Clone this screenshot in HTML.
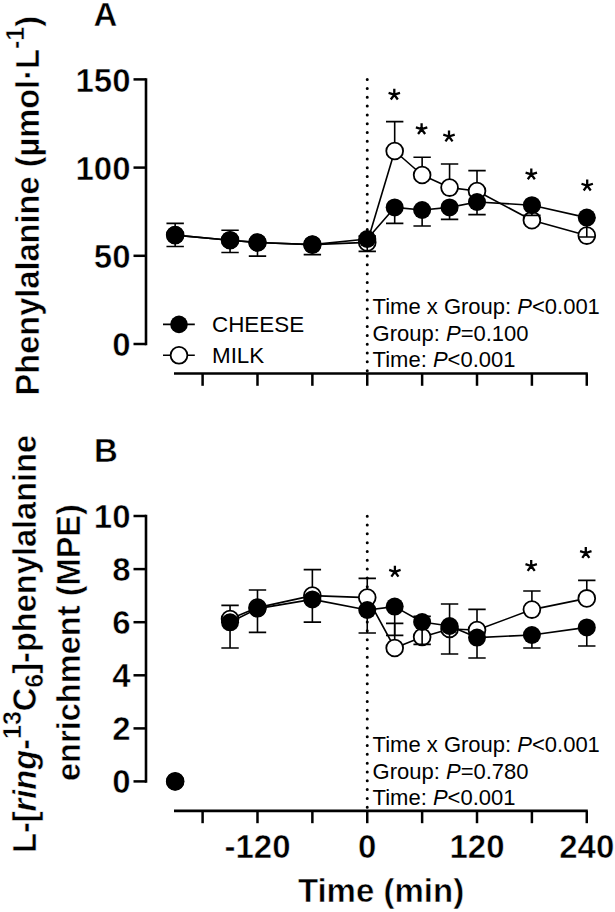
<!DOCTYPE html>
<html><head><meta charset="utf-8"><style>
html,body{margin:0;padding:0;background:#fff;}
svg{display:block;}
text{font-family:"Liberation Sans",sans-serif;fill:#000;}
.b{font-weight:bold;font-size:33px;stroke:#fff;stroke-width:0.5px;}
.t{font-size:32.6px;}
.r{font-size:22px;}
.lg{font-size:22.4px;}
.st{font-size:30px;}
</style></head><body>
<svg width="615" height="912" viewBox="0 0 615 912">
<rect width="615" height="912" fill="#fff"/>
<path d="M146,78.15 V345.25" stroke="#000" stroke-width="2.6" fill="none"/>
<path d="M133.5,79.4 H146" stroke="#000" stroke-width="2.5" fill="none"/>
<text x="130.5" y="91.70" text-anchor="end" class="b">150</text>
<path d="M133.5,167.6 H146" stroke="#000" stroke-width="2.5" fill="none"/>
<text x="130.5" y="179.90" text-anchor="end" class="b">100</text>
<path d="M133.5,255.8 H146" stroke="#000" stroke-width="2.5" fill="none"/>
<text x="130.5" y="268.10" text-anchor="end" class="b">50</text>
<path d="M133.5,344 H146" stroke="#000" stroke-width="2.5" fill="none"/>
<text x="130.5" y="356.30" text-anchor="end" class="b">0</text>
<path d="M174,373.5 H587.8" stroke="#000" stroke-width="2.7" fill="none"/>
<path d="M202.60,373.5 V385.8" stroke="#000" stroke-width="2.5" fill="none"/>
<path d="M257.49,373.5 V385.8" stroke="#000" stroke-width="2.5" fill="none"/>
<path d="M312.37,373.5 V385.8" stroke="#000" stroke-width="2.5" fill="none"/>
<path d="M367.25,373.5 V385.8" stroke="#000" stroke-width="2.5" fill="none"/>
<path d="M422.13,373.5 V385.8" stroke="#000" stroke-width="2.5" fill="none"/>
<path d="M477.01,373.5 V385.8" stroke="#000" stroke-width="2.5" fill="none"/>
<path d="M531.90,373.5 V385.8" stroke="#000" stroke-width="2.5" fill="none"/>
<path d="M586.78,373.5 V385.8" stroke="#000" stroke-width="2.5" fill="none"/>
<path d="M367.25,79.60000000000001 V373.5" stroke="#000" stroke-width="3" stroke-dasharray="0 8.82" stroke-linecap="round" fill="none"/>
<path d="M175.16,235.10 L230.05,240.20 L257.49,242.50 L312.37,244.60 L367.25,242.40 L394.69,151.00 L422.13,175.00 L449.57,187.60 L477.01,191.00 L531.90,220.20 L586.78,235.60" fill="none" stroke="#000" stroke-width="1.6" stroke-linejoin="round"/>
<path d="M175.16,235.10 V223.40 M166.46,223.40 H183.86" fill="none" stroke="#000" stroke-width="1.6"/>
<path d="M230.05,240.20 V230.30 M221.35,230.30 H238.75" fill="none" stroke="#000" stroke-width="1.6"/>
<path d="M257.49,242.50 V242.50 M248.79,242.50 H266.19" fill="none" stroke="#000" stroke-width="1.6"/>
<path d="M312.37,244.60 V244.60 M303.67,244.60 H321.07" fill="none" stroke="#000" stroke-width="1.6"/>
<path d="M367.25,242.40 V236.00 M358.55,236.00 H375.95" fill="none" stroke="#000" stroke-width="1.6"/>
<path d="M394.69,151.00 V121.60 M385.99,121.60 H403.39" fill="none" stroke="#000" stroke-width="1.6"/>
<path d="M422.13,175.00 V157.20 M413.43,157.20 H430.83" fill="none" stroke="#000" stroke-width="1.6"/>
<path d="M449.57,187.60 V164.00 M440.87,164.00 H458.27" fill="none" stroke="#000" stroke-width="1.6"/>
<path d="M477.01,191.00 V170.60 M468.31,170.60 H485.71" fill="none" stroke="#000" stroke-width="1.6"/>
<path d="M531.90,220.20 V206.00 M523.20,206.00 H540.60" fill="none" stroke="#000" stroke-width="1.6"/>
<path d="M586.78,235.60 V218.00 M578.08,218.00 H595.48" fill="none" stroke="#000" stroke-width="1.6"/>
<circle cx="175.16" cy="235.10" r="8.4" fill="#fff" stroke="#000" stroke-width="1.8"/>
<circle cx="230.05" cy="240.20" r="8.4" fill="#fff" stroke="#000" stroke-width="1.8"/>
<circle cx="257.49" cy="242.50" r="8.4" fill="#fff" stroke="#000" stroke-width="1.8"/>
<circle cx="312.37" cy="244.60" r="8.4" fill="#fff" stroke="#000" stroke-width="1.8"/>
<circle cx="367.25" cy="242.40" r="8.4" fill="#fff" stroke="#000" stroke-width="1.8"/>
<circle cx="394.69" cy="151.00" r="8.4" fill="#fff" stroke="#000" stroke-width="1.8"/>
<circle cx="422.13" cy="175.00" r="8.4" fill="#fff" stroke="#000" stroke-width="1.8"/>
<circle cx="449.57" cy="187.60" r="8.4" fill="#fff" stroke="#000" stroke-width="1.8"/>
<circle cx="477.01" cy="191.00" r="8.4" fill="#fff" stroke="#000" stroke-width="1.8"/>
<circle cx="531.90" cy="220.20" r="8.4" fill="#fff" stroke="#000" stroke-width="1.8"/>
<circle cx="586.78" cy="235.60" r="8.4" fill="#fff" stroke="#000" stroke-width="1.8"/>
<path d="M175.16,235.10 L230.05,240.20 L257.49,242.50 L312.37,244.60 L367.25,239.00 L394.69,207.40 L422.13,210.00 L449.57,207.40 L477.01,202.00 L531.90,205.20 L586.78,217.60" fill="none" stroke="#000" stroke-width="1.6" stroke-linejoin="round"/>
<path d="M175.16,235.10 V246.50 M166.46,246.50 H183.86" fill="none" stroke="#000" stroke-width="1.6"/>
<path d="M230.05,240.20 V252.50 M221.35,252.50 H238.75" fill="none" stroke="#000" stroke-width="1.6"/>
<path d="M257.49,242.50 V256.10 M248.79,256.10 H266.19" fill="none" stroke="#000" stroke-width="1.6"/>
<path d="M312.37,244.60 V254.60 M303.67,254.60 H321.07" fill="none" stroke="#000" stroke-width="1.6"/>
<path d="M367.25,239.00 V251.40 M358.55,251.40 H375.95" fill="none" stroke="#000" stroke-width="1.6"/>
<path d="M394.69,207.40 V223.40 M385.99,223.40 H403.39" fill="none" stroke="#000" stroke-width="1.6"/>
<path d="M422.13,210.00 V226.00 M413.43,226.00 H430.83" fill="none" stroke="#000" stroke-width="1.6"/>
<path d="M449.57,207.40 V219.40 M440.87,219.40 H458.27" fill="none" stroke="#000" stroke-width="1.6"/>
<path d="M477.01,202.00 V214.60 M468.31,214.60 H485.71" fill="none" stroke="#000" stroke-width="1.6"/>
<path d="M531.90,205.20 V215.40 M523.20,215.40 H540.60" fill="none" stroke="#000" stroke-width="1.6"/>
<path d="M586.78,217.60 V237.00 M578.08,237.00 H595.48" fill="none" stroke="#000" stroke-width="1.6"/>
<circle cx="175.16" cy="235.10" r="9.0" fill="#000"/>
<circle cx="230.05" cy="240.20" r="9.0" fill="#000"/>
<circle cx="257.49" cy="242.50" r="9.0" fill="#000"/>
<circle cx="312.37" cy="244.60" r="9.0" fill="#000"/>
<circle cx="367.25" cy="239.00" r="9.0" fill="#000"/>
<circle cx="394.69" cy="207.40" r="9.0" fill="#000"/>
<circle cx="422.13" cy="210.00" r="9.0" fill="#000"/>
<circle cx="449.57" cy="207.40" r="9.0" fill="#000"/>
<circle cx="477.01" cy="202.00" r="9.0" fill="#000"/>
<circle cx="531.90" cy="205.20" r="9.0" fill="#000"/>
<circle cx="586.78" cy="217.60" r="9.0" fill="#000"/>
<path d="M394.30,94.70 L394.30,88.70 M394.30,94.70 L400.01,92.85 M394.30,94.70 L397.83,99.55 M394.30,94.70 L390.77,99.55 M394.30,94.70 L388.59,92.85" stroke="#000" stroke-width="2.3" fill="none"/>
<path d="M421.60,129.20 L421.60,123.20 M421.60,129.20 L427.31,127.35 M421.60,129.20 L425.13,134.05 M421.60,129.20 L418.07,134.05 M421.60,129.20 L415.89,127.35" stroke="#000" stroke-width="2.3" fill="none"/>
<path d="M449.00,136.50 L449.00,130.50 M449.00,136.50 L454.71,134.65 M449.00,136.50 L452.53,141.35 M449.00,136.50 L445.47,141.35 M449.00,136.50 L443.29,134.65" stroke="#000" stroke-width="2.3" fill="none"/>
<path d="M531.30,174.40 L531.30,168.40 M531.30,174.40 L537.01,172.55 M531.30,174.40 L534.83,179.25 M531.30,174.40 L527.77,179.25 M531.30,174.40 L525.59,172.55" stroke="#000" stroke-width="2.3" fill="none"/>
<path d="M587.20,185.60 L587.20,179.60 M587.20,185.60 L592.91,183.75 M587.20,185.60 L590.73,190.45 M587.20,185.60 L583.67,190.45 M587.20,185.60 L581.49,183.75" stroke="#000" stroke-width="2.3" fill="none"/>
<text x="372.6" y="314.2" class="r">Time x Group: <tspan font-style="italic">P</tspan>&lt;0.001</text>
<text x="372.6" y="340.5" class="r">Group: <tspan font-style="italic">P</tspan>=0.100</text>
<text x="372.6" y="366.8" class="r">Time: <tspan font-style="italic">P</tspan>&lt;0.001</text>
<path d="M163,324.4 H194.8 M163,355.3 H194.8" stroke="#000" stroke-width="1.6"/>
<circle cx="179" cy="324.4" r="8.8" fill="#000"/>
<circle cx="179" cy="355.3" r="8.4" fill="#fff" stroke="#000" stroke-width="1.8"/>
<text x="212" y="332.3" class="lg">CHEESE</text>
<text x="212" y="363" class="lg">MILK</text>
<text x="93.5" y="26.4" class="b">A</text>
<text transform="translate(39,395.5) rotate(-90)" class="b t">Phenylalanine (µmol·L<tspan dy="-14.8" font-size="25">-1</tspan><tspan dy="14.8">)</tspan></text>
<path d="M146,514.75 V782.65" stroke="#000" stroke-width="2.6" fill="none"/>
<path d="M133.5,516 H146" stroke="#000" stroke-width="2.5" fill="none"/>
<text x="130.5" y="527.50" text-anchor="end" class="b">10</text>
<path d="M133.5,569.1 H146" stroke="#000" stroke-width="2.5" fill="none"/>
<text x="130.5" y="580.60" text-anchor="end" class="b">8</text>
<path d="M133.5,622.2 H146" stroke="#000" stroke-width="2.5" fill="none"/>
<text x="130.5" y="633.70" text-anchor="end" class="b">6</text>
<path d="M133.5,675.3 H146" stroke="#000" stroke-width="2.5" fill="none"/>
<text x="130.5" y="686.80" text-anchor="end" class="b">4</text>
<path d="M133.5,728.4 H146" stroke="#000" stroke-width="2.5" fill="none"/>
<text x="130.5" y="739.90" text-anchor="end" class="b">2</text>
<path d="M133.5,781.4 H146" stroke="#000" stroke-width="2.5" fill="none"/>
<text x="130.5" y="792.90" text-anchor="end" class="b">0</text>
<path d="M174,810.9 H587.8" stroke="#000" stroke-width="2.7" fill="none"/>
<path d="M202.60,810.9 V823.1999999999999" stroke="#000" stroke-width="2.5" fill="none"/>
<path d="M257.49,810.9 V823.1999999999999" stroke="#000" stroke-width="2.5" fill="none"/>
<path d="M312.37,810.9 V823.1999999999999" stroke="#000" stroke-width="2.5" fill="none"/>
<path d="M367.25,810.9 V823.1999999999999" stroke="#000" stroke-width="2.5" fill="none"/>
<path d="M422.13,810.9 V823.1999999999999" stroke="#000" stroke-width="2.5" fill="none"/>
<path d="M477.01,810.9 V823.1999999999999" stroke="#000" stroke-width="2.5" fill="none"/>
<path d="M531.90,810.9 V823.1999999999999" stroke="#000" stroke-width="2.5" fill="none"/>
<path d="M586.78,810.9 V823.1999999999999" stroke="#000" stroke-width="2.5" fill="none"/>
<path d="M367.25,516.2 V810.9" stroke="#000" stroke-width="3" stroke-dasharray="0 8.82" stroke-linecap="round" fill="none"/>
<path d="M230.05,619.00 L257.49,607.60 L312.37,595.60 L367.25,597.60 L394.69,648.00 L422.13,637.00 L449.57,629.00 L477.01,630.00 L531.90,609.60 L586.78,598.40" fill="none" stroke="#000" stroke-width="1.6" stroke-linejoin="round"/>
<path d="M230.05,619.00 V605.40 M221.35,605.40 H238.75" fill="none" stroke="#000" stroke-width="1.6"/>
<path d="M257.49,607.60 V590.00 M248.79,590.00 H266.19" fill="none" stroke="#000" stroke-width="1.6"/>
<path d="M312.37,595.60 V569.60 M303.67,569.60 H321.07" fill="none" stroke="#000" stroke-width="1.6"/>
<path d="M367.25,597.60 V578.40 M358.55,578.40 H375.95" fill="none" stroke="#000" stroke-width="1.6"/>
<path d="M394.69,648.00 V623.40 M385.99,623.40 H403.39" fill="none" stroke="#000" stroke-width="1.6"/>
<path d="M422.13,637.00 V616.40 M413.43,616.40 H430.83" fill="none" stroke="#000" stroke-width="1.6"/>
<path d="M449.57,629.00 V604.00 M440.87,604.00 H458.27" fill="none" stroke="#000" stroke-width="1.6"/>
<path d="M477.01,630.00 V609.40 M468.31,609.40 H485.71" fill="none" stroke="#000" stroke-width="1.6"/>
<path d="M531.90,609.60 V591.00 M523.20,591.00 H540.60" fill="none" stroke="#000" stroke-width="1.6"/>
<path d="M586.78,598.40 V580.40 M578.08,580.40 H595.48" fill="none" stroke="#000" stroke-width="1.6"/>
<circle cx="230.05" cy="619.00" r="8.4" fill="#fff" stroke="#000" stroke-width="1.8"/>
<circle cx="257.49" cy="607.60" r="8.4" fill="#fff" stroke="#000" stroke-width="1.8"/>
<circle cx="312.37" cy="595.60" r="8.4" fill="#fff" stroke="#000" stroke-width="1.8"/>
<circle cx="367.25" cy="597.60" r="8.4" fill="#fff" stroke="#000" stroke-width="1.8"/>
<circle cx="394.69" cy="648.00" r="8.4" fill="#fff" stroke="#000" stroke-width="1.8"/>
<circle cx="422.13" cy="637.00" r="8.4" fill="#fff" stroke="#000" stroke-width="1.8"/>
<circle cx="449.57" cy="629.00" r="8.4" fill="#fff" stroke="#000" stroke-width="1.8"/>
<circle cx="477.01" cy="630.00" r="8.4" fill="#fff" stroke="#000" stroke-width="1.8"/>
<circle cx="531.90" cy="609.60" r="8.4" fill="#fff" stroke="#000" stroke-width="1.8"/>
<circle cx="586.78" cy="598.40" r="8.4" fill="#fff" stroke="#000" stroke-width="1.8"/>
<path d="M230.05,622.30 L257.49,608.60 L312.37,599.40 L367.25,610.00 L394.69,606.60 L422.13,622.00 L449.57,626.00 L477.01,637.60 L531.90,635.00 L586.78,627.40" fill="none" stroke="#000" stroke-width="1.6" stroke-linejoin="round"/>
<path d="M230.05,622.30 V648.00 M221.35,648.00 H238.75" fill="none" stroke="#000" stroke-width="1.6"/>
<path d="M257.49,608.60 V632.40 M248.79,632.40 H266.19" fill="none" stroke="#000" stroke-width="1.6"/>
<path d="M312.37,599.40 V622.10 M303.67,622.10 H321.07" fill="none" stroke="#000" stroke-width="1.6"/>
<path d="M367.25,610.00 V633.00 M358.55,633.00 H375.95" fill="none" stroke="#000" stroke-width="1.6"/>
<path d="M394.69,606.60 V635.40 M385.99,635.40 H403.39" fill="none" stroke="#000" stroke-width="1.6"/>
<path d="M422.13,622.00 V644.40 M413.43,644.40 H430.83" fill="none" stroke="#000" stroke-width="1.6"/>
<path d="M449.57,626.00 V654.00 M440.87,654.00 H458.27" fill="none" stroke="#000" stroke-width="1.6"/>
<path d="M477.01,637.60 V658.00 M468.31,658.00 H485.71" fill="none" stroke="#000" stroke-width="1.6"/>
<path d="M531.90,635.00 V648.00 M523.20,648.00 H540.60" fill="none" stroke="#000" stroke-width="1.6"/>
<path d="M586.78,627.40 V646.00 M578.08,646.00 H595.48" fill="none" stroke="#000" stroke-width="1.6"/>
<circle cx="230.05" cy="622.30" r="9.0" fill="#000"/>
<circle cx="257.49" cy="608.60" r="9.0" fill="#000"/>
<circle cx="312.37" cy="599.40" r="9.0" fill="#000"/>
<circle cx="367.25" cy="610.00" r="9.0" fill="#000"/>
<circle cx="394.69" cy="606.60" r="9.0" fill="#000"/>
<circle cx="422.13" cy="622.00" r="9.0" fill="#000"/>
<circle cx="449.57" cy="626.00" r="9.0" fill="#000"/>
<circle cx="477.01" cy="637.60" r="9.0" fill="#000"/>
<circle cx="531.90" cy="635.00" r="9.0" fill="#000"/>
<circle cx="586.78" cy="627.40" r="9.0" fill="#000"/>
<circle cx="175.16" cy="781.4" r="8.4" fill="#fff" stroke="#000" stroke-width="1.8"/><circle cx="175.16" cy="781.4" r="9.0" fill="#000"/>
<path d="M394.90,571.80 L394.90,565.80 M394.90,571.80 L400.61,569.95 M394.90,571.80 L398.43,576.65 M394.90,571.80 L391.37,576.65 M394.90,571.80 L389.19,569.95" stroke="#000" stroke-width="2.3" fill="none"/>
<path d="M531.20,566.00 L531.20,560.00 M531.20,566.00 L536.91,564.15 M531.20,566.00 L534.73,570.85 M531.20,566.00 L527.67,570.85 M531.20,566.00 L525.49,564.15" stroke="#000" stroke-width="2.3" fill="none"/>
<path d="M585.80,553.00 L585.80,547.00 M585.80,553.00 L591.51,551.15 M585.80,553.00 L589.33,557.85 M585.80,553.00 L582.27,557.85 M585.80,553.00 L580.09,551.15" stroke="#000" stroke-width="2.3" fill="none"/>
<text x="372.6" y="752.2" class="r">Time x Group: <tspan font-style="italic">P</tspan>&lt;0.001</text>
<text x="372.6" y="778.5" class="r">Group: <tspan font-style="italic">P</tspan>=0.780</text>
<text x="372.6" y="804.8000000000001" class="r">Time: <tspan font-style="italic">P</tspan>&lt;0.001</text>
<text x="94" y="462.4" class="b">B</text>
<text transform="translate(36,853) rotate(-90)" class="b t">L-[<tspan font-style="italic">ring</tspan>-<tspan dy="-14.8" font-size="25">13</tspan><tspan dy="14.8">C</tspan><tspan dy="7.3" font-size="25">6</tspan><tspan dy="-7.3">]-phenylalanine</tspan></text>
<text transform="translate(79.5,781) rotate(-90)" class="b t">enrichment (MPE)</text>
<text x="257.5" y="857.6" text-anchor="middle" class="b">-120</text>
<text x="367.2" y="857.6" text-anchor="middle" class="b">0</text>
<text x="477.0" y="857.6" text-anchor="middle" class="b">120</text>
<text x="586.8" y="857.6" text-anchor="middle" class="b">240</text>
<text x="381" y="902" text-anchor="middle" class="b">Time (min)</text>
</svg></body></html>
